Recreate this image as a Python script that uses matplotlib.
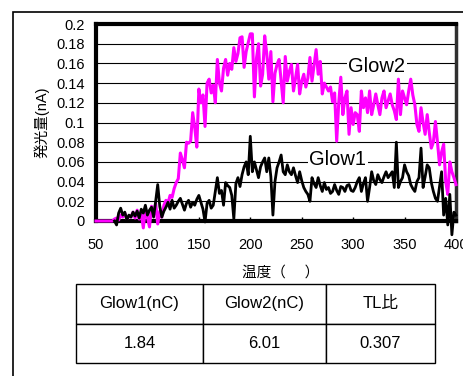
import numpy as np
import matplotlib
matplotlib.use("Agg")
import matplotlib.pyplot as plt
from matplotlib.patches import Rectangle

plt.rcParams['font.family'] = ['Liberation Sans', 'Noto Sans CJK JP', 'DejaVu Sans']

# temperature grid (deg C), 2-degree sampling
temps = np.arange(50, 401, 2)

nan = np.nan
glow2 = [
    0, 0, 0, 0, 0, 0, 0, 0, 0, 0.002,                                   # 50
    0.003, 0.001, 0.006, 0.004, 0.008, 0.002, 0.005, 0.004, 0.009, 0.003,  # 70
    0.011, 0.002, 0.008, -0.007, 0.012, 0.004, -0.006, 0.015, 0.006, 0.018,  # 90
    -0.003, 0.01, 0.004, 0.016, 0.021, 0.018, 0.026, 0.024, 0.033, 0.039,  # 110
    0.043, 0.069, 0.062, 0.054, 0.08, 0.079, 0.081, 0.11, 0.095, 0.075,  # 130
    0.134, 0.12, 0.128, 0.096, 0.14, 0.144, 0.13, 0.138, 0.12, 0.164,  # 150
    0.14, 0.132, 0.155, 0.164, 0.148, 0.16, 0.154, 0.176, 0.162, 0.17,  # 170
    0.186, 0.187, 0.156, 0.172, 0.181, 0.19, 0.19, 0.126, 0.165, 0.18,  # 190
    0.137, 0.149, 0.188, 0.17, 0.144, 0.172, 0.121, 0.15, 0.159, 0.164,  # 210
    0.142, 0.12, 0.167, 0.142, 0.152, 0.159, 0.132, 0.145, 0.159, 0.129,  # 230
    0.142, 0.149, 0.136, 0.145, 0.166, 0.142, 0.158, 0.174, 0.149, 0.162,  # 250
    0.129, 0.14, 0.136, 0.132, 0.136, 0.121, 0.13, 0.081, 0.12, 0.146,  # 270
    0.108, 0.125, 0.132, 0.088, 0.115, 0.098, 0.11, 0.108, 0.091, 0.132,  # 290
    0.115, 0.125, 0.11, 0.132, 0.108, 0.118, 0.129, 0.118, 0.108, 0.125,  # 310
    0.132, 0.115, 0.122, 0.129, 0.118, 0.112, 0.103, 0.144, 0.108, 0.132,  # 330
    0.125, 0.118, 0.132, 0.144, 0.128, 0.118, 0.098, 0.091, 0.115, 0.1,  # 350
    0.088, 0.108, 0.09, 0.074, 0.08, 0.101, 0.08, 0.057, 0.07, 0.078,  # 370
    0.04, 0.027, 0.06, 0.05, 0.044, 0.037,  # 390
]
glow1 = [
    nan, nan, nan, nan, nan, nan, nan, nan, nan, 0.0,  # 50
    -0.004, 0.008, 0.013, 0.006, 0.009, 0.001, 0.006, 0.004, 0.009, 0.005,  # 70
    0.01, 0.003, 0.012, 0.008, 0.016, 0.006, 0.011, 0.014, 0.004, 0.02,  # 90
    0.037, 0.015, 0.004, 0.01, 0.014, 0.019, 0.012, 0.021, 0.013, 0.016,  # 110
    0.02, 0.023, 0.017, 0.011, 0.018, 0.021, 0.014, 0.019, 0.016, 0.022,  # 130
    0.026, 0.019, 0.012, -0.001, 0.018, 0.021, 0.013, 0.016, 0.03, 0.044,  # 150
    0.028, 0.031, 0.016, 0.039, 0.036, 0.034, 0.026, 0.002, 0.038, 0.044,  # 170
    0.035, 0.047, 0.055, 0.06, 0.047, 0.086, 0.05, 0.06, 0.052, 0.044,  # 190
    0.055, 0.06, 0.064, 0.05, 0.064, 0.045, 0.006, 0.04, 0.054, 0.06,  # 210
    0.067, 0.05, 0.047, 0.057, 0.05, 0.047, 0.054, 0.046, 0.039, 0.05,  # 230
    0.041, 0.034, 0.03, 0.027, 0.02, 0.044, 0.038, 0.034, 0.044, 0.036,  # 250
    0.03, 0.039, 0.032, 0.034, 0.028, 0.03, 0.037, 0.031, 0.027, 0.035,  # 270
    0.034, 0.03, 0.036, 0.037, 0.031, 0.03, 0.034, 0.04, 0.044, 0.03,  # 290
    0.038, 0.044, 0.02, 0.034, 0.05, 0.041, 0.037, 0.047, 0.042, 0.039,  # 310
    0.045, 0.05, 0.044, 0.047, 0.05, 0.034, 0.08, 0.034, 0.04, 0.044,  # 330
    0.057, 0.05, 0.046, 0.037, 0.033, 0.03, 0.04, 0.044, 0.074, 0.034,  # 350
    0.045, 0.057, 0.054, 0.039, 0.03, 0.023, 0.02, 0.035, 0.05, 0.006,  # 370
    0.023, -0.004, 0.027, -0.014, 0.009, 0.006,  # 390
]

x_ticks = [50, 100, 150, 200, 250, 300, 350, 400]
y_ticks = [0, 0.02, 0.04, 0.06, 0.08, 0.1, 0.12, 0.14, 0.16, 0.18, 0.2]
y_tick_labels = ["0", "0.02", "0.04", "0.06", "0.08", "0.1", "0.12", "0.14", "0.16", "0.18", "0.2"]

table_header = ["Glow1(nC)", "Glow2(nC)", "TL比"]
table_values = ["1.84", "6.01", "0.307"]

W, H = 463, 376
fig = plt.figure(figsize=(W / 100, H / 100), dpi=100)

# outer frame
fig.add_artist(Rectangle((13 / W, -0.1), 1.2, 1 - 12 / H + 0.1, transform=fig.transFigure,
                         fill=False, ec='black', lw=1.2))

ax = fig.add_axes([96 / W, 1 - 221 / H, 360 / W, 197 / H])
ax.plot(temps, glow2, color='#FF00FF', lw=2.2, clip_on=False, zorder=3)
ax.plot(temps, glow1, color='black', lw=2.0, clip_on=False, zorder=4)

ax.set_xlim(50, 400)
ax.set_ylim(0, 0.2)
ax.set_xticks(x_ticks)
ax.set_yticks(y_ticks)
ax.set_yticklabels(y_tick_labels)
ax.grid(axis='y', color='black', lw=0.8, zorder=0)
ax.set_axisbelow(True)
ax.tick_params(axis='x', direction='in', length=3, width=1, pad=12, labelsize=10.5)
ax.tick_params(axis='y', length=0, pad=8, labelsize=10.5)
for s in ['top', 'left', 'bottom']:
    ax.spines[s].set_linewidth(3)
    ax.spines[s].set_color('black')
ax.spines['right'].set_linewidth(2.5)
ax.spines['right'].set_color('#303030')

ax.text(323, 0.157, "Glow2", ha='center', va='center', fontsize=14.5, zorder=1.5,
        bbox=dict(fc='white', ec='none', pad=1))
ax.text(285, 0.062, "Glow1", ha='center', va='center', fontsize=14.5, zorder=1.5,
        bbox=dict(fc='white', ec='none', pad=1))

fig.text(42 / W, 1 - 122 / H, "発光量(nA)", rotation=90, ha='center', va='center', fontsize=10.5)
fig.text(281 / W, 1 - 273 / H, "温度（ 　）", ha='center', va='center', fontsize=10.5)

tax = fig.add_axes([76 / W, 1 - 363 / H, 359 / W, 79 / H])
tax.axis('off')
tbl = tax.table(cellText=[table_header, table_values], bbox=[0, 0, 1, 1],
                colWidths=[127, 123, 109], cellLoc='center')
tbl.auto_set_font_size(False)
tbl.set_fontsize(12)
for cell in tbl.get_celld().values():
    cell.set_linewidth(1)
    cell.set_edgecolor('black')

fig.savefig("out.png", dpi=100)
